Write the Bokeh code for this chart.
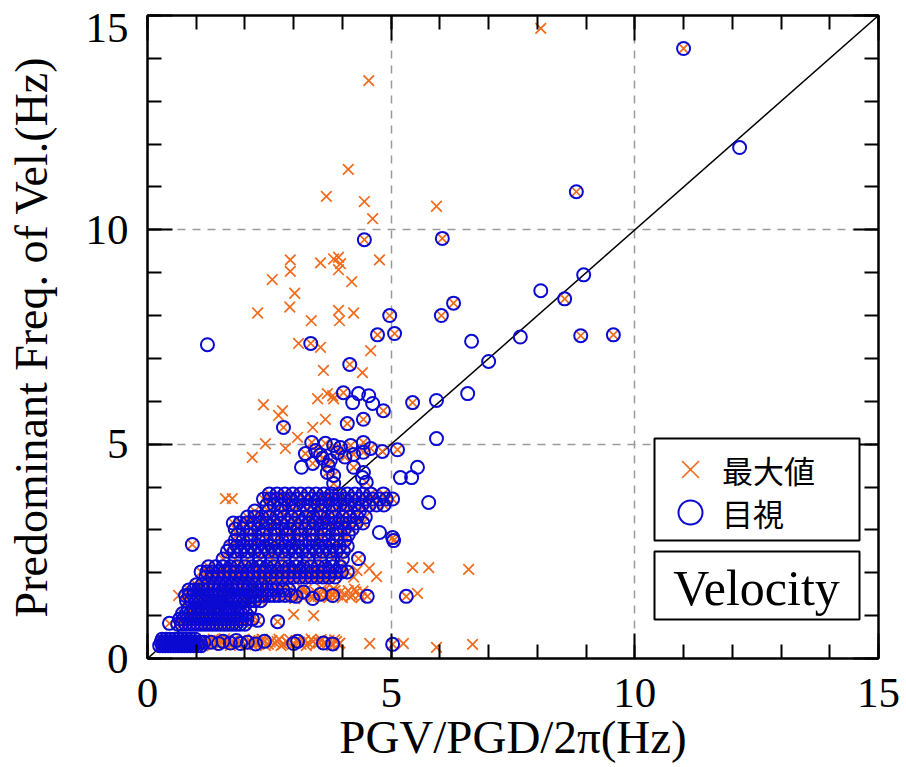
from bokeh.plotting import figure
from bokeh.models import (Range1d, SingleIntervalTicker, FixedTicker, LinearAxis, Legend, LegendItem,
                          BoxAnnotation, Label, ColumnDataSource)
from bokeh.embed import file_html
from bokeh.resources import INLINE

# ---------------- data (Hz) ----------------
# dense rows where both methods agree: (frequency of velocity, [PGV/PGD/2pi values])
both_rows = [
    (0.30, [0.25, 0.31, 0.36, 0.42, 0.47, 0.53, 0.58, 0.64, 0.70, 0.76, 0.82, 0.88, 0.95, 1.02, 1.10]),
    (0.38, [0.28, 0.34, 0.40, 0.46, 0.51, 0.57, 0.63, 0.69, 0.75, 0.81, 0.87, 0.93, 1.00, 1.08, 1.16]),
    (0.45, [0.30, 0.38, 0.46, 0.55, 0.64, 0.72, 0.80, 0.89, 0.98]),
    (0.80, [0.62, 0.70, 0.78, 0.86, 0.94, 1.02, 1.10, 1.18, 1.26, 1.34, 1.42, 1.50, 1.58, 1.66, 1.74, 1.82, 1.90, 2.00]),
    (0.92, [0.66, 0.74, 0.82, 0.90, 0.98, 1.06, 1.14, 1.22, 1.30, 1.38, 1.46, 1.54, 1.62, 1.70, 1.78, 1.86, 1.94, 2.04, 2.15]),
    (1.05, [0.72, 0.80, 0.88, 0.96, 1.04, 1.12, 1.20, 1.28, 1.36, 1.44, 1.52, 1.60, 1.68, 1.76, 1.84, 1.92, 2.02]),
    (1.16, [0.84, 0.94, 1.04, 1.14, 1.24, 1.34, 1.44, 1.54, 1.64, 1.74, 1.84, 1.95, 2.10]),
    (1.35, [0.80, 0.90, 1.00, 1.10, 1.20, 1.30, 1.40, 1.50, 1.60, 1.70, 1.80, 1.90, 2.00, 2.10, 2.20, 2.32]),
    (1.47, [0.78, 0.86, 0.95, 1.04, 1.13, 1.22, 1.31, 1.40, 1.49, 1.58, 1.67, 1.76, 1.85, 1.94, 2.03, 2.12,
            2.21, 2.30, 2.40, 2.50, 2.60, 2.70, 2.82, 2.95]),
    (1.60, [0.85, 0.95, 1.05, 1.15, 1.25, 1.35, 1.45, 1.55, 1.65, 1.75, 1.85, 1.95, 2.05, 2.15, 2.25, 2.35,
            2.45, 2.55, 2.65, 2.78, 2.90]),
    (1.72, [1.00, 1.12, 1.24, 1.36, 1.48, 1.60, 1.72, 1.84, 1.96, 2.08, 2.20, 2.35]),
    (1.90, [1.20, 1.32, 1.44, 1.56, 1.68, 1.80, 1.92, 2.04, 2.16, 2.28, 2.40, 2.52, 2.64, 2.76, 2.88, 3.00,
            3.12, 3.24, 3.36, 3.48, 3.60, 3.72, 3.85]),
    (2.02, [1.10, 1.22, 1.34, 1.46, 1.58, 1.70, 1.82, 1.94, 2.06, 2.18, 2.30, 2.42, 2.54, 2.66, 2.78, 2.90,
            3.02, 3.14, 3.26, 3.38, 3.50, 3.62, 3.74, 3.86, 3.98, 4.10]),
    (2.14, [1.25, 1.40, 1.55, 1.70, 1.85, 2.00, 2.15, 2.30, 2.45, 2.60, 2.75, 2.90, 3.05, 3.20, 3.35, 3.50,
            3.65, 3.80, 3.95]),
    (2.32, [1.55, 1.80, 2.05, 2.30, 2.55, 2.80, 3.05, 3.30, 3.55, 3.80, 4.00]),
    (2.50, [1.64, 1.78, 1.92, 2.06, 2.20, 2.34, 2.48, 2.62, 2.76, 2.90, 3.04, 3.18, 3.32, 3.46, 3.60, 3.74,
            3.88, 4.02]),
    (2.62, [1.70, 1.84, 1.98, 2.12, 2.26, 2.40, 2.54, 2.68, 2.82, 2.96, 3.10, 3.24, 3.38, 3.52, 3.66, 3.80,
            3.94, 4.10]),
    (2.76, [1.80, 1.96, 2.12, 2.28, 2.44, 2.60, 2.76, 2.92, 3.08, 3.24, 3.40, 3.56, 3.72, 3.88, 4.05]),
    (2.89, [1.85, 2.10, 2.38, 2.62, 2.88, 3.12, 3.38, 3.62, 3.90, 4.12]),
    (3.02, [1.80, 1.96, 2.12, 2.28, 2.44, 2.60, 2.76, 2.92, 3.08, 3.24, 3.40, 3.56, 3.72, 3.88, 4.04, 4.20]),
    (3.16, [1.76, 1.90, 2.04, 2.18, 2.32, 2.46, 2.60, 2.74, 2.88, 3.02, 3.16, 3.30, 3.44, 3.58, 3.72, 3.86,
            4.00, 4.14, 4.28, 4.42]),
    (3.30, [2.05, 2.20, 2.35, 2.50, 2.65, 2.80, 2.95, 3.10, 3.25, 3.40, 3.55, 3.70, 3.85, 4.00, 4.15, 4.30, 4.47]),
    (3.44, [2.20, 2.48, 2.75, 3.02, 3.28, 3.55, 3.82, 4.08, 4.35]),
    (3.58, [2.45, 2.60, 2.75, 2.90, 3.05, 3.20, 3.35, 3.50, 3.65, 3.80, 3.95, 4.10, 4.25, 4.40, 4.55, 4.70, 4.85]),
    (3.72, [2.38, 2.52, 2.66, 2.80, 2.94, 3.08, 3.22, 3.36, 3.50, 3.64, 3.78, 3.92, 4.06, 4.20, 4.34, 4.48,
            4.62, 4.76, 4.90, 5.03]),
    (3.84, [2.50, 2.66, 2.82, 2.98, 3.14, 3.30, 3.46, 3.62, 3.78, 3.94, 4.10, 4.26, 4.42, 4.58, 4.84]),
]

# scattered points where both methods agree
both_x = [1.30, 1.46, 1.55, 1.70, 1.82, 1.91, 2.05, 2.22, 2.40, 3.00, 3.08, 3.61, 3.80, 5.03,
          0.45, 2.26, 2.67,
          3.05, 3.20, 3.39, 3.55, 3.80, 4.51, 5.31,
          4.33, 0.92, 5.05, 5.03,
          3.39, 3.59, 3.71, 3.82, 3.82, 3.69, 4.23, 4.49, 3.37, 3.24, 3.65, 3.82, 3.96, 4.17, 4.43,
          4.58, 4.82, 5.13, 4.43, 4.23, 3.45, 3.55, 3.90, 4.05, 3.75,
          2.79, 4.10, 4.43, 4.84, 5.44, 4.02, 4.15, 3.35, 4.72, 5.07, 4.97, 6.03, 6.28, 4.45, 6.05,
          8.80, 11.0, 8.56, 8.89, 9.56]
both_y = [0.38, 0.35, 0.40, 0.36, 0.42, 0.35, 0.38, 0.34, 0.40, 0.35, 0.40, 0.36, 0.34, 0.33,
          0.82, 0.89, 0.86,
          1.45, 1.55, 1.40, 1.50, 1.47, 1.45, 1.45,
          2.33, 2.66, 2.75, 2.82,
          4.55, 4.67, 4.50, 4.27, 4.08, 4.34, 4.46, 4.11, 5.04, 4.78, 5.02, 4.97, 4.92, 4.97, 5.04,
          4.90, 4.83, 4.87, 4.81, 4.76, 4.85, 4.75, 4.80, 4.70, 4.62,
          5.39, 5.48, 5.58, 5.78, 5.97, 6.20, 6.86, 7.35, 7.55, 7.58, 8.00, 8.00, 8.29, 9.77, 9.80,
          10.89, 14.23, 8.39, 7.53, 7.55]

# picked by eye only (目視)
vis_x = [3.16, 4.43, 4.41, 5.19, 5.42, 5.54, 5.93, 5.77, 4.76,
         1.23, 6.65, 7.00, 6.57, 5.93, 4.33, 4.54, 4.21, 4.62,
         12.15, 8.95, 8.07, 7.65]
vis_y = [4.46, 4.34, 4.22, 4.22, 4.22, 4.46, 5.13, 3.64, 2.94,
         7.32, 7.40, 6.93, 6.18, 6.02, 6.18, 6.13, 5.97, 5.95,
         11.92, 8.95, 8.58, 7.50]

# maximum amplitude only (最大値)
max_x = [1.22, 1.28, 1.35, 1.40, 1.48, 1.60, 1.65, 1.75, 1.85, 1.98, 2.10, 2.15, 2.30, 2.35, 2.48, 2.55,
         2.62, 2.70, 2.78, 2.85, 2.92, 3.15, 3.22, 3.30, 3.36, 3.45, 3.50, 3.56, 3.68, 3.72, 3.88, 3.95,
         1.25, 1.33, 1.52, 1.58, 1.70, 1.78, 1.92, 2.02, 2.18, 2.26, 2.42, 2.52, 2.66, 2.74, 2.88, 3.05,
         3.12, 3.26, 3.40, 3.52, 3.64, 3.78, 3.84, 3.92,
         4.56, 5.25, 5.93, 6.67,
         3.00, 3.41,
         3.10, 3.15, 3.25, 3.30, 3.45, 3.50, 3.62, 3.68, 3.75, 3.85, 3.90, 3.96, 4.05, 4.12, 4.20, 4.28,
         4.35, 4.42, 3.02, 3.18, 3.36, 3.58, 3.72, 3.82, 4.00, 4.16, 4.25, 4.38,
         5.54, 0.64,
         4.30, 4.23, 4.70, 4.55, 5.44, 5.77, 6.59,
         1.60, 1.74,
         8.07, 4.54, 4.12, 3.67, 4.45, 4.62, 5.93, 2.93, 2.93, 2.56, 3.02, 2.92, 2.26, 3.36, 3.55, 3.82,
         3.92, 3.96, 3.92, 4.19, 4.76, 3.92, 3.94, 4.23, 3.10, 3.55, 4.58, 3.61, 4.41, 3.49, 3.80, 3.82,
         3.69, 2.38, 2.77, 2.69, 3.65, 3.39, 3.08, 2.42, 2.15, 2.83]
max_y = [0.42, 0.33, 0.45, 0.36, 0.42, 0.33, 0.44, 0.40, 0.33, 0.45, 0.42, 0.33, 0.36, 0.45, 0.33, 0.42,
         0.36, 0.45, 0.33, 0.40, 0.44, 0.33, 0.42, 0.36, 0.45, 0.33, 0.40, 0.44, 0.33, 0.42, 0.40, 0.36,
         0.38, 0.30, 0.36, 0.46, 0.30, 0.38, 0.40, 0.32, 0.44, 0.38, 0.30, 0.38, 0.40, 0.30, 0.36, 0.42,
         0.38, 0.30, 0.40, 0.36, 0.38, 0.30, 0.44, 0.33,
         0.35, 0.35, 0.26, 0.33,
         1.03, 1.00,
         1.55, 1.47, 1.60, 1.50, 1.55, 1.45, 1.58, 1.50, 1.55, 1.58, 1.48, 1.55, 1.50, 1.58, 1.48, 1.55,
         1.50, 1.57, 1.40, 1.62, 1.44, 1.62, 1.42, 1.63, 1.42, 1.44, 1.62, 1.42,
         1.52, 1.47,
         2.05, 1.90, 1.91, 2.10, 2.12, 2.12, 2.08,
         3.73, 3.73,
         14.70, 13.48, 11.41, 10.78, 10.66, 10.26, 10.55, 9.30, 9.03, 8.84, 8.52, 8.20, 8.06, 7.88, 9.23, 9.32,
         9.36, 9.21, 9.07, 8.79, 9.30, 8.12, 7.88, 8.06, 7.35, 7.26, 7.18, 6.72, 6.67, 6.06, 6.13, 6.06,
         6.18, 5.92, 5.78, 5.67, 5.58, 5.39, 5.16, 5.01, 4.69, 4.90]

diag_vals = [0, 15]
axis_range = (0, 15)
tick_step = 5
ytick_text = ["0", "5", "10", "15"]
ytick_pos = [0, 5, 10, 14.72]   # where the y tick numbers sit (top one nudged down, as in the original)

# ---------------- assemble series ----------------
row_x = [x for yv, xs in both_rows for x in xs]
row_y = [yv for yv, xs in both_rows for x in xs]
agree_x = row_x + both_x
agree_y = row_y + both_y

max_src = ColumnDataSource(dict(x=agree_x + max_x, y=agree_y + max_y))
vis_src = ColumnDataSource(dict(x=agree_x + vis_x, y=agree_y + vis_y))

ORANGE = "#F26A1B"
BLUE = "#0A0AD2"
SERIF = "Liberation Serif"

p = figure(width=906, height=767, output_backend="svg", toolbar_location=None,
           x_range=Range1d(*axis_range), y_range=Range1d(*axis_range),
           min_border_left=147, min_border_right=28, min_border_top=15, min_border_bottom=109)
p.outline_line_color = "black"
p.outline_line_width = 2
p.background_fill_color = "white"
p.border_fill_color = "white"

def style_axis(ax, labels=True):
    ax.ticker = SingleIntervalTicker(interval=tick_step, num_minor_ticks=5)
    ax.axis_line_color = "black"
    ax.axis_line_width = 2
    ax.major_tick_line_color = "black"
    ax.major_tick_line_width = 2
    ax.minor_tick_line_color = "black"
    ax.minor_tick_line_width = 2
    ax.major_tick_in = 25
    ax.major_tick_out = 0
    ax.minor_tick_in = 14
    ax.minor_tick_out = 0
    ax.axis_label_text_font = SERIF
    ax.axis_label_text_font_style = "normal"
    ax.axis_label_text_color = "black"
    if labels:
        ax.major_label_text_font = SERIF
        ax.major_label_text_font_size = "43px"
        ax.major_label_text_color = "black"
    else:
        # tick numbers of this side are not drawn (no colour)
        ax.major_label_text_font_size = "1px"
        ax.major_label_text_color = None
        ax.major_label_standoff = 0

style_axis(p.xaxis[0])
style_axis(p.yaxis[0], labels=False)
p.xaxis.axis_label = "PGV/PGD/2π(Hz)"
p.xaxis.axis_label_text_font_size = "47px"
p.xaxis.major_label_standoff = 20
p.xaxis.axis_label_standoff = 1

top_ax = LinearAxis()
style_axis(top_ax, labels=False)
p.add_layout(top_ax, "above")
right_ax = LinearAxis()
style_axis(right_ax, labels=False)
p.add_layout(right_ax, "right")

# y tick numbers and y title on a line-less companion axis
ylab_ax = LinearAxis(ticker=FixedTicker(ticks=ytick_pos),
                     major_label_overrides=dict(zip(ytick_pos, ytick_text)))
ylab_ax.axis_line_color = None
ylab_ax.major_tick_line_color = None
ylab_ax.minor_tick_line_color = None
ylab_ax.major_tick_in = 0
ylab_ax.major_tick_out = 0
ylab_ax.major_label_standoff = 19
ylab_ax.major_label_text_font = SERIF
ylab_ax.major_label_text_font_size = "43px"
ylab_ax.major_label_text_color = "black"
ylab_ax.axis_label = "Predominant Freq. of Vel.(Hz)"
ylab_ax.axis_label_text_font = SERIF
ylab_ax.axis_label_text_font_size = "46px"
ylab_ax.axis_label_text_font_style = "normal"
ylab_ax.axis_label_text_color = "black"
ylab_ax.axis_label_standoff = 26
p.add_layout(ylab_ax, "left")

for g in (p.xgrid[0], p.ygrid[0]):
    g.ticker = SingleIntervalTicker(interval=tick_step)
    g.grid_line_color = "#9a9a9a"
    g.grid_line_width = 1.5
    g.grid_line_dash = "8 7"

p.line(x=diag_vals, y=diag_vals, line_color="black", line_width=1.5)

r_max = p.scatter("x", "y", source=max_src, marker="x", size=15,
                  line_color=ORANGE, line_width=1.7)
r_vis = p.scatter("x", "y", source=vis_src, marker="circle", size=13,
                  line_color=BLUE, fill_color=None, line_width=2)

# legend frame, then one legend per entry so that the symbols can be large
legend_box = BoxAnnotation(left=507, right=712, bottom=118, top=220,
                           left_units="screen", right_units="screen",
                           bottom_units="screen", top_units="screen",
                           fill_color="white", fill_alpha=1,
                           line_color="black", line_alpha=1, line_width=2)
p.add_layout(legend_box)

def one_legend(label, rend, y_loc):
    return Legend(items=[LegendItem(label=label, renderers=[rend])],
                  location=(513, y_loc), orientation="vertical",
                  glyph_width=60, glyph_height=60, padding=0, margin=0,
                  label_standoff=2, label_text_font="Noto Sans CJK JP",
                  label_text_font_size="31px", label_text_color="black",
                  border_line_color=None, background_fill_alpha=0)

p.add_layout(one_legend("最大値", r_max, 159))
p.add_layout(one_legend("目視", r_vis, 116))

box = BoxAnnotation(left=507, right=712, bottom=39, top=107,
                    left_units="screen", right_units="screen",
                    bottom_units="screen", top_units="screen",
                    fill_color="white", fill_alpha=1,
                    line_color="black", line_alpha=1, line_width=2)
p.add_layout(box)
p.add_layout(Label(x=609, y=71, x_units="screen", y_units="screen", text="Velocity",
                   text_align="center", text_baseline="alphabetic",
                   text_font=SERIF, text_font_size="50px", text_color="black"))

open("out.html", "w").write(file_html(p, INLINE))
